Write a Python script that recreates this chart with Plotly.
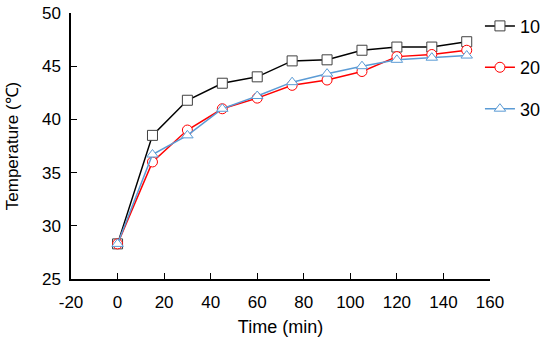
import plotly.graph_objects as go

time_min = [0, 15, 30, 45, 60, 75, 90, 105, 120, 135, 150]
s10 = [28.3, 38.5, 41.8, 43.4, 44.0, 45.5, 45.6, 46.5, 46.8, 46.8, 47.3]
s20 = [28.3, 36.0, 39.0, 41.0, 42.0, 43.2, 43.7, 44.5, 45.9, 46.1, 46.5]
s30 = [28.3, 36.7, 38.5, 41.0, 42.2, 43.5, 44.3, 45.0, 45.6, 45.8, 46.0]
names = ["10", "20", "30"]
x_ticks = [-20, 0, 20, 40, 60, 80, 100, 120, 140, 160]
y_ticks = [25, 30, 35, 40, 45, 50]

fig = go.Figure()
styles = [
    (s10, "black", "square", "#404040"),
    (s20, "#FF0000", "circle", "#FF0000"),
    (s30, "#5B9BD5", "triangle-up", "#5B9BD5"),
]
for name, (ys, lc, sym, mc) in zip(names, styles):
    fig.add_trace(go.Scatter(
        x=time_min, y=ys, name=name, mode="lines+markers", legendgroup=name,
        line=dict(color=lc, width=1.5),
        marker=dict(symbol=sym, size=10, color="white", line=dict(color=mc, width=1)),
    ))

font = "Liberation Sans, Arial, sans-serif"
fig.update_layout(
    width=550, height=344,
    margin=dict(l=71, r=60, t=13, b=65, autoexpand=False),
    plot_bgcolor="white", paper_bgcolor="white",
    font=dict(family=font, size=17, color="black"),
    legend=dict(x=0.976, y=1.02, xanchor="left", yanchor="top",
                font=dict(size=18), tracegroupgap=15, itemwidth=30,
                bgcolor="rgba(0,0,0,0)"),
    xaxis=dict(range=[-20, 160], tickvals=x_ticks,
               ticktext=[str(v) for v in x_ticks], showline=True, linecolor="black",
               linewidth=1.5, ticks="inside", ticklen=6, tickcolor="black",
               showgrid=False, zeroline=False, automargin=False,
               ticklabelstandoff=7, ticklabeloverflow="allow",
               title=dict(text="Time (min)", font=dict(size=18), standoff=9)),
    yaxis=dict(range=[25, 50], tickvals=y_ticks,
               ticktext=[str(v) for v in y_ticks], showline=True, linecolor="black",
               linewidth=1.5, ticks="inside", ticklen=6, tickcolor="black",
               showgrid=False, zeroline=False, automargin=False,
               ticklabelstandoff=5, ticklabeloverflow="allow",
               title=dict(text="Temperature (℃)", font=dict(size=17), standoff=19)),
)
fig.write_html("out.html", config={"displayModeBar": False},
               post_script="document.body.style.margin='0';")
